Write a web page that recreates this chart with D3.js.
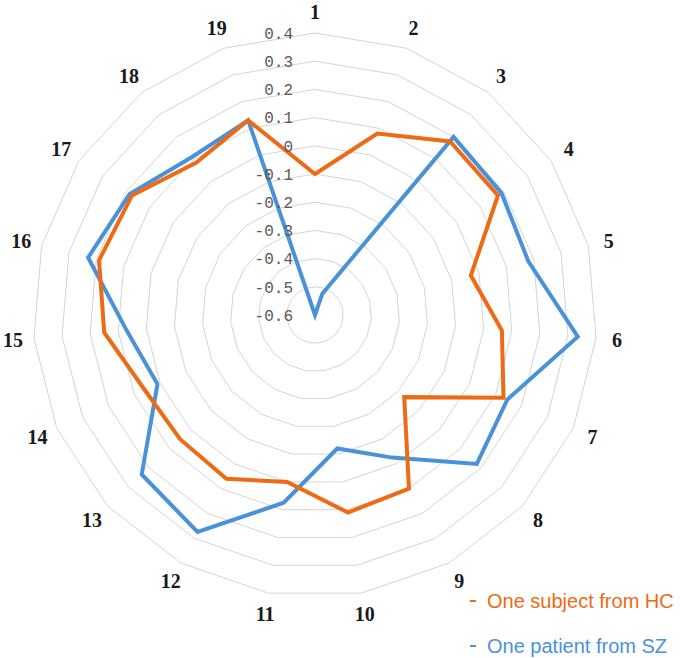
<!DOCTYPE html>
<html>
<head>
<meta charset="utf-8">
<script src="https://cdn.jsdelivr.net/npm/d3@7"></script>
<style>
  html, body { margin: 0; padding: 0; background: #ffffff; }
  svg { display: block; }
</style>
</head>
<body>
<svg id="chart" width="681" height="658"></svg>
<script>
// ---- data ----
const axes = ["1","2","3","4","5","6","7","8","9","10","11","12","13","14","15","16","17","18","19"];
const hcValues = [-0.10, 0.08, 0.18, 0.175, -0.03, 0.065, 0.13, -0.17, 0.10, 0.11, 0.00, 0.06, 0.05, 0.06, 0.15, 0.19, 0.175, 0.085, 0.13];
const szValues = [-0.60, -0.52, 0.20, 0.19, 0.18, 0.335, 0.145, 0.18, -0.025, -0.12, 0.075, 0.275, 0.235, 0.01, 0.07, 0.23, 0.185, 0.11, 0.13];
const tickValues = [-0.6, -0.5, -0.4, -0.3, -0.2, -0.1, 0, 0.1, 0.2, 0.3, 0.4];
const tickLabels = ["-0.6","-0.5","-0.4","-0.3","-0.2","-0.1","0","0.1","0.2","0.3","0.4"];
const seriesNames = ["One subject from HC", "One patient from SZ"];

// ---- layout ----
const cx = 315, cy = 315, R = 282;
const svg = d3.select("#chart");
const g = svg.append("g").attr("transform", `translate(${cx},${cy})`);

const r = d3.scaleLinear().domain([-0.6, 0.4]).range([0, R]);
const angle = d3.scaleLinear().domain([0, axes.length]).range([0, 2 * Math.PI]);

// grid rings
const ringLine = d3.lineRadial()
  .angle((d, i) => angle(i))
  .radius(d => r(d))
  .curve(d3.curveLinearClosed);

tickValues.filter(v => v > -0.6).forEach(v => {
  g.append("path")
    .attr("d", ringLine(axes.map(() => v)))
    .attr("fill", "none")
    .attr("stroke", "#d4d4d4")
    .attr("stroke-width", 1);
});

// series
const seriesLine = d3.lineRadial()
  .angle((d, i) => angle(i))
  .radius(d => r(d))
  .curve(d3.curveLinearClosed);

const szColor = "#4a92d8";
const hcColor = "#ee6a14";

g.append("path")
  .attr("d", seriesLine(szValues))
  .attr("fill", "none")
  .attr("stroke", szColor)
  .attr("stroke-width", 4)
  .attr("stroke-linejoin", "miter");

g.append("path")
  .attr("d", seriesLine(hcValues))
  .attr("fill", "none")
  .attr("stroke", hcColor)
  .attr("stroke-width", 4)
  .attr("stroke-linejoin", "miter");

// tick labels
g.selectAll("text.tick")
  .data(tickValues)
  .enter().append("text")
  .attr("class", "tick")
  .attr("x", -22)
  .attr("y", d => -r(d))
  .attr("dy", "0.36em")
  .attr("text-anchor", "end")
  .attr("font-family", "'Liberation Mono', 'DejaVu Sans Mono', monospace")
  .attr("font-size", 16)
  .attr("fill", "#595959")
  .text((d, i) => tickLabels[i]);

// axis labels
const labelR = 303;
g.selectAll("text.axis")
  .data(axes)
  .enter().append("text")
  .attr("class", "axis")
  .attr("x", (d, i) => labelR * Math.sin(angle(i)))
  .attr("y", (d, i) => -labelR * Math.cos(angle(i)))
  .attr("dy", "0.35em")
  .attr("text-anchor", "middle")
  .attr("font-family", "'Liberation Serif', 'DejaVu Serif', serif")
  .attr("font-weight", "bold")
  .attr("font-size", 20)
  .attr("fill", "#1a1a1a")
  .text(d => d);

// legend
const legend = svg.append("g");
const legendItems = [
  { name: seriesNames[0], color: hcColor, y: 608 },
  { name: seriesNames[1], color: szColor, y: 653 }
];
legendItems.forEach(it => {
  legend.append("line")
    .attr("x1", 470).attr("x2", 476)
    .attr("y1", it.y - 7).attr("y2", it.y - 7)
    .attr("stroke", it.color).attr("stroke-width", 2);
  legend.append("text")
    .attr("x", 487).attr("y", it.y)
    .attr("font-family", "'Liberation Sans', Arial, sans-serif")
    .attr("font-size", 20)
    .attr("fill", it.color)
    .text(it.name);
});
</script>
</body>
</html>
